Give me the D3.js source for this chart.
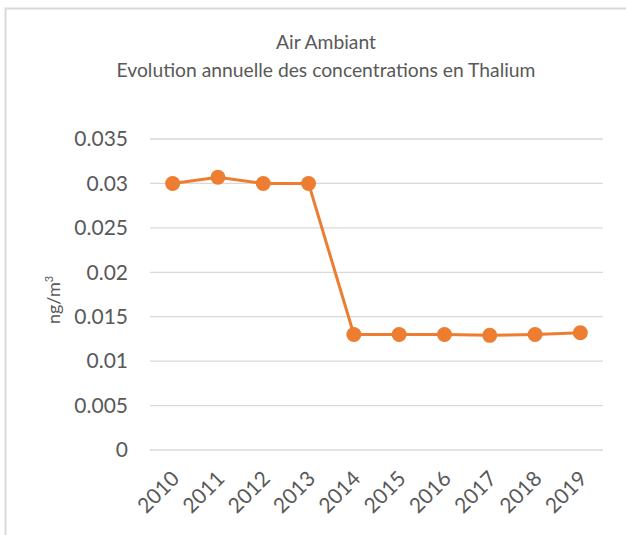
<!DOCTYPE html>
<html>
<head>
<meta charset="utf-8">
<script src="https://cdn.jsdelivr.net/npm/d3@7"></script>
<style>
  body { margin: 0; background: #fff; }
  svg { display: block; font-family: Lato, "Open Sans", sans-serif; }
</style>
</head>
<body>
<svg id="chart" width="626" height="535"></svg>
<script>
// valeurs
const years = ['2010', '2011', '2012', '2013', '2014', '2015', '2016', '2017', '2018', '2019'];
const thalium = [0.030, 0.0307, 0.030, 0.030, 0.013, 0.013, 0.013, 0.0129, 0.013, 0.0132];
const yTicks = [0, 0.005, 0.01, 0.015, 0.02, 0.025, 0.03, 0.035];
const titleLines = ['Air Ambiant', 'Evolution annuelle des concentrations en Thalium'];

const svg = d3.select('#chart');
const margin = { left: 150, right: 23, top: 139, bottom: 85 };
const width = 626, height = 535;

// cadre du graphique
svg.append('rect')
    .attr('x', 5.5).attr('y', 8.5)
    .attr('width', 700).attr('height', 600)
    .attr('fill', 'none')
    .attr('stroke', '#d9d9d9')
    .attr('stroke-width', 2);

const x = d3.scaleBand()
    .domain(years)
    .range([margin.left, width - margin.right]);

const y = d3.scaleLinear()
    .domain([0, 0.035])
    .range([height - margin.bottom, margin.top]);

// lignes de grille
svg.append('g')
    .selectAll('line')
    .data(yTicks)
    .enter().append('line')
    .attr('x1', margin.left)
    .attr('x2', width - margin.right)
    .attr('y1', d => y(d))
    .attr('y2', d => y(d))
    .attr('stroke', '#d9d9d9')
    .attr('stroke-width', 1.3);

// axe y
const yAxis = svg.append('g')
    .attr('transform', `translate(${margin.left},0)`)
    .call(d3.axisLeft(y).tickValues(yTicks).tickSize(0).tickPadding(22).tickFormat(d => String(+d.toFixed(3))));
yAxis.select('.domain').remove();
yAxis.selectAll('text')
    .attr('fill', '#595959')
    .attr('font-size', '21px')
    .attr('font-family', 'Lato, sans-serif');

// axe x
const xAxis = svg.append('g')
    .attr('transform', `translate(0,${height - margin.bottom})`)
    .call(d3.axisBottom(x).tickSize(0).tickPadding(0));
xAxis.select('.domain').remove();
xAxis.selectAll('text')
    .attr('fill', '#595959')
    .attr('font-size', '21px')
    .attr('font-family', 'Lato, sans-serif')
    .attr('text-anchor', 'end')
    .attr('dy', 0)
    .attr('transform', 'translate(8,30) rotate(-45)');

// titre
svg.append('g')
    .selectAll('text')
    .data(titleLines)
    .enter().append('text')
    .attr('x', 326)
    .attr('y', (d, i) => 49 + i * 28)
    .attr('text-anchor', 'middle')
    .attr('fill', '#595959')
    .attr('font-size', '19.3px')
    .text(d => d);

// titre de l'axe y
const yLabel = svg.append('text')
    .attr('transform', 'translate(60,300) rotate(-90)')
    .attr('text-anchor', 'middle')
    .attr('fill', '#595959')
    .attr('font-size', '18px');
yLabel.append('tspan').text('ng/m');
yLabel.append('tspan').attr('dy', -7).attr('font-size', '11px').text('3');

// série
const line = d3.line()
    .x((d, i) => x(years[i]) + x.bandwidth() / 2)
    .y(d => y(d));

svg.append('path')
    .datum(thalium)
    .attr('fill', 'none')
    .attr('stroke', '#ed7d31')
    .attr('stroke-width', 3)
    .attr('stroke-linejoin', 'round')
    .attr('d', line);

svg.append('g')
    .selectAll('circle')
    .data(thalium)
    .enter().append('circle')
    .attr('cx', (d, i) => x(years[i]) + x.bandwidth() / 2)
    .attr('cy', d => y(d))
    .attr('r', 7.5)
    .attr('fill', '#ed7d31');
</script>
</body>
</html>
